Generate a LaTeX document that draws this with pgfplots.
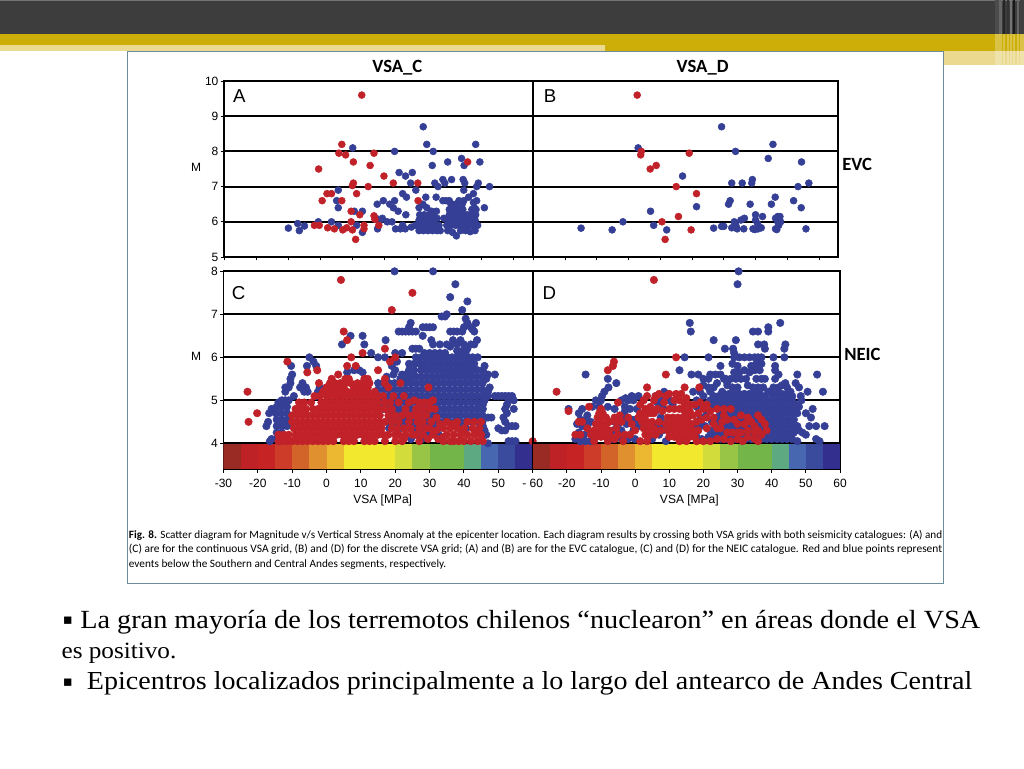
\documentclass[border=0pt]{standalone}
\usepackage{pgfplots}
\usepackage{graphicx}
\usepackage{fontspec}
\pgfplotsset{compat=1.18}
\setmainfont{Liberation Serif}
\setsansfont{Liberation Sans}
\newfontfamily\capfont{Carlito}
\newfontfamily\symfont{DejaVu Sans}
\newfontfamily\bodyfont[FakeStretch=1.08]{Liberation Serif}
\definecolor{rd}{HTML}{C1222A}
\definecolor{bl}{HTML}{343F95}
\definecolor{gd}{HTML}{CDAE08}
\definecolor{lg}{HTML}{EAD98E}
\definecolor{frm}{HTML}{6C8C9C}
\definecolor{c1}{HTML}{9A2A24}\definecolor{c2}{HTML}{BF2226}\definecolor{c3}{HTML}{C62424}
\definecolor{c4}{HTML}{CC3C28}\definecolor{c5}{HTML}{D2642A}\definecolor{c6}{HTML}{E0902E}
\definecolor{c7}{HTML}{ECB832}\definecolor{c8}{HTML}{F2E92E}\definecolor{c9}{HTML}{D2DC3A}
\definecolor{c10}{HTML}{98C545}\definecolor{c11}{HTML}{74B54A}\definecolor{c12}{HTML}{5DAA82}
\definecolor{c13}{HTML}{4768B0}\definecolor{c14}{HTML}{3A4A9C}\definecolor{c15}{HTML}{332F8F}
\pgfplotsset{
  panel/.style={scale only axis, axis line style={line width=1.3pt,black},
    ymajorgrids, grid style={line width=1.4pt,black},
    tick align=outside, major tick length=2.5pt, tick style={black,line width=0.7pt},
    xtick pos=bottom, ytick pos=left,
    /pgf/number format/assume math mode=true,
    tick label style={font=\sffamily\fontsize{9}{9}\selectfont, inner sep=1.5pt},
    xticklabel style={yshift=-3pt},
    clip=true, axis on top=false},
  dots/.style={only marks, mark=*, mark size=#1, mark options={draw=none}},
  rdots/.style={dots=#1, color=rd, mark options={fill=rd,draw=none}},
  bdots/.style={dots=#1, color=bl, mark options={fill=bl,draw=none}},
  top panel/.style={panel, height=132pt, xmin=-30, xmax=66, ymin=5, ymax=10, ytick={5,...,10}, xtick={-30,-20,...,60}, xticklabels={}},
  low panel/.style={panel, height=148.5pt, xmin=-30, xmax=60, ymin=3.395, ymax=8, ytick={4,...,8}},
}
\newcommand{\cbar}{%
 \addplot[fill=c1,draw=none] coordinates {(-30,3.395)(-30,4)(-25,4)(-25,3.395)} --cycle;
 \addplot[fill=c2,draw=none] coordinates {(-25,3.395)(-25,4)(-20,4)(-20,3.395)} --cycle;
 \addplot[fill=c3,draw=none] coordinates {(-20,3.395)(-20,4)(-15,4)(-15,3.395)} --cycle;
 \addplot[fill=c4,draw=none] coordinates {(-15,3.395)(-15,4)(-10,4)(-10,3.395)} --cycle;
 \addplot[fill=c5,draw=none] coordinates {(-10,3.395)(-10,4)(-5,4)(-5,3.395)} --cycle;
 \addplot[fill=c6,draw=none] coordinates {(-5,3.395)(-5,4)(0,4)(0,3.395)} --cycle;
 \addplot[fill=c7,draw=none] coordinates {(0,3.395)(0,4)(5,4)(5,3.395)} --cycle;
 \addplot[fill=c8,draw=none] coordinates {(5,3.395)(5,4)(20,4)(20,3.395)} --cycle;
 \addplot[fill=c9,draw=none] coordinates {(20,3.395)(20,4)(25,4)(25,3.395)} --cycle;
 \addplot[fill=c10,draw=none] coordinates {(25,3.395)(25,4)(30,4)(30,3.395)} --cycle;
 \addplot[fill=c11,draw=none] coordinates {(30,3.395)(30,4)(40,4)(40,3.395)} --cycle;
 \addplot[fill=c12,draw=none] coordinates {(40,3.395)(40,4)(45,4)(45,3.395)} --cycle;
 \addplot[fill=c13,draw=none] coordinates {(45,3.395)(45,4)(50,4)(50,3.395)} --cycle;
 \addplot[fill=c14,draw=none] coordinates {(50,3.395)(50,4)(55,4)(55,3.395)} --cycle;
 \addplot[fill=c15,draw=none] coordinates {(55,3.395)(55,4)(60,4)(60,3.395)} --cycle;
 \addplot[black,line width=1.4pt] coordinates {(-30,4)(60,4)};
}
\begin{document}
\begin{tikzpicture}
\path[use as bounding box,fill=white] (0,0) rectangle (768pt,-576pt);
% slide decoration
\fill[black!76] (0,0) rectangle (768pt,-25.5pt);
\fill[black!55] (0,0) rectangle (768pt,-1pt);
\fill[gd] (0,-25.5pt) rectangle (768pt,-34pt);
\fill[lg] (0,-34pt) rectangle (454pt,-38pt);
\fill[gd] (454pt,-34pt) rectangle (768pt,-38pt);
\fill[lg] (454pt,-38pt) rectangle (768pt,-48.5pt);
\foreach \xa/\w/\g in {746/3/70,749.5/2/60,752/1.5/85,755/2/80,757.5/1.5/55,760/1.5/90,763/1.5/60,765/3/75}{
  \fill[black!\g] (\xa pt,0) rectangle ++(\w pt,-25.5pt);
  \fill[white,opacity=0.25] (\xa pt,-25.5pt) rectangle ++(\w pt,-25.5pt);
}
% figure frame
\draw[fill=white,draw=frm,line width=0.7pt] (95.3pt,-38.3pt) rectangle (707.3pt,-437.3pt);
% A
\begin{axis}[top panel, at={(168pt,-192.75pt)}, anchor=south west, width=231.75pt]
\addplot[bdots=2.6pt] coordinates {
(-10,5.82)(-7.1,5.95)(-6.6,5.75)(-5,5.88)(-0.7,6)(3.4,6)(5.5,5.9)(5.5,6.9)(5,6.6)(5.5,6.4)(10,8.1)(10.5,6.3)(13,6.3)(13,5.7)(11.2,5.9)
(17.6,6.5)(19.5,6.6)(21.5,6.5)(23,6.6)(22.6,6.4)(24.1,6.3)(26.5,6.2)(23,8)(24.4,7.4)(26.4,7.3)(28.5,7.4)(28,7.1)(25.5,6.8)(26.7,6.7)(29.6,6.9)
(31.9,8.7)(33,8.2)(35,8)(34.7,7.6)(39.5,7.7)(43.8,7.8)(44.6,7.6)(48.2,8.2)(49.5,7.7)(35.5,7.1)(36.5,7)(38,7.2)(38.6,7.1)(40.7,7.2)(44.3,7.2)(44.8,7.1)(49,7.1)(48.5,7)(52.5,7)(44.5,6.9)(35.9,6.7)(32.7,6.7)(50.9,6.4)
(17.7,5.8)(17.2,6.1)(19.2,6.1)(18.2,6)(20.7,6)(22.2,6)(23.3,5.8)(24.8,5.8)(25.5,5.9)(26.3,5.8)(28.2,5.85)(29.5,5.9)
(36.2,6.1)(38.3,6.1)(38,6.6)(39,6.6)(40,6.6)(41,6.5)(43,6.6)(44.5,6.6)(46,6.7)(47.5,6.8)(48.5,6.6)(47.8,6.4)(48.2,6.2)
(30.6,6.4)(31.8,6.5)(33,6.4)(34.5,6.3)(36,6.3)
(30.6,5.75)(32,5.75)(33.4,5.75)(34.8,5.75)(36.2,5.75)(37.2,5.75)
(30.2,5.9)(31.5,5.9)(32.9,5.9)(34.3,5.9)(35.7,5.9)(36.8,5.9)
(30.6,6.05)(32,6.05)(33.4,6.05)(34.8,6.05)
(30.8,6.2)(32.2,6.2)(33.6,6.2)(35,6.2)
(39.5,5.75)(41,5.7)(42.2,5.6)(43.5,5.75)(45,5.75)(46.5,5.72)(48,5.75)
(39.2,5.9)(40.6,5.9)(42,5.9)(43.4,5.9)(44.8,5.9)(46.2,5.9)(47.6,5.9)(48.8,5.9)
(39.6,6.05)(41,6.05)(42.4,6.05)(43.8,6.05)(45.2,6.05)(46.6,6.05)(48,6.05)
(40,6.2)(41.4,6.2)(42.8,6.2)(44.2,6.2)(45.6,6.2)(47,6.2)
(40,6.35)(41.4,6.35)(42.8,6.35)(44.2,6.35)(47,6.35)(48.3,6.35)
(40.5,6.5)(42,6.5)(44,6.5)(47.5,6.55)
};
\addplot[rdots=2.6pt] coordinates {
(12.8,9.6)(6.6,8.2)(5.7,7.95)(7.8,7.9)(16.6,7.95)(10.2,7.7)(15.4,7.6)(-0.6,7.5)(19.7,7.3)(22.6,7.1)(30.2,7.1)(14.8,7)(10.2,7.1)(9.9,7.03)
(2,6.8)(3.4,6.8)(0.5,6.6)(6.6,6.6)(11.2,6.8)(45.7,7.7)(30.3,6.6)(9.5,6.3)(12.2,6.2)(16.6,6.17)(16.9,6.07)(18.1,5.9)(9.5,6)
(-1.9,5.9)(-0.4,5.9)(2.2,5.83)(4.3,5.8)(6.9,5.77)(8.1,5.83)(9.9,5.77)(13.5,5.8)(13.5,5.9)(10.9,5.5)
};
\end{axis}
% B
\begin{axis}[top panel, at={(400.1pt,-192.75pt)}, anchor=south west, width=228.4pt, yticklabels={}, ytick style={draw=none}]
\addplot[bdots=2.6pt] coordinates {
(-15,5.82)(-5.2,5.77)(-1.8,6)(7.9,5.9)(6.9,6.3)(12,5.77)(3,8.1)(17,7.3)(21.4,6.43)(29.3,8.7)(33.7,8)(45.5,8.2)(44,7.8)(54.5,7.7)(56.8,7.1)(53.4,7)
(32.5,7.1)(35.8,7.1)(39,7.2)(38.8,7.1)(46.2,6.7)(45,6.5)(52,6.6)(54.4,6.4)(38.3,6.5)(32,6.6)(31.5,6.5)(55.9,5.8)(26.8,5.82)(29.3,5.87)(30,5.87)
(32.5,5.83)(33.3,6)(34.2,5.8)(33.8,5.9)(35.4,6.05)(36.5,6.1)(36.3,5.8)(39.2,5.8)(40,6.2)(42.2,6.15)(40,6.05)(40.6,5.95)(41.8,5.83)(39.8,5.78)(40.8,5.8)
(46.3,5.8)(47.3,5.9)(47.7,6.15)(46.3,6.1)(47.9,6)(47,6)(46.7,5.78)(47,6.15)
};
\addplot[rdots=2.6pt] coordinates {
(2.7,9.6)(4,8)(3.8,7.9)(6.8,7.5)(8.7,7.6)(19.1,7.95)(15,7)(21.4,6.8)(15.7,6.15)(10.5,6)(19.7,5.77)(11.5,5.5)
};
\end{axis}
% C
\begin{axis}[low panel, at={(167.6pt,-352pt)}, anchor=south west, width=231.9pt,
  xtick={-30,-20,...,60}, xticklabels={-30,-20,-10,0,10,20,30,40,50,- 60}]
\addplot[bdots=2.8pt] coordinates {
(19.8,8)(31,8)(37.5,7.7)(36,7.4)(41,7.3)(39.5,7.1)(35,7)(33.5,6.95)(34.5,6.95)(40.5,6.9)(41,6.8)(40,6.7)(39.5,6.6)(42,6.7)(43,6.6)(43.5,6.8)(42.5,6.65)
(21,6.6)(22,6.6)(23,6.6)(24,6.6)(25,6.6)(26,6.6)(24,6.7)(24.5,6.8)(28,6.7)(29,6.7)(30,6.7)(31,6.7)(28,6.5)(36,6.6)(37,6.6)(38,6.6)
(17.2,6.4)(31,6.3)(30.5,6.4)(33,6.3)(35,6.3)(36,6.25)(36.8,6.4)(38,6.3)(39,6.4)(40,6.3)(41,6.2)(42,6.3)(43,6.3)(43.8,6.4)
(25,6.2)(26,6.2)(27,6.2)(38,6.15)(39.5,6.15)(40.5,6.1)
(-5,6)(-3.8,5.9)(-3,5.8)(-5.7,5.8)(-10.3,5.8)(-10.5,5.5)(-10,5.6)(-12,5.3)(-11,5.3)(-10.5,5.4)(-12,5.2)(-9.5,5.1)(-7.7,5.3)(-7,5.4)(-6,5.3)(-5.5,5.2)(-6.5,5.2)(-2,5.3)(-2.5,5.2)(-3,5.1)
(-16,4.8)(-16.7,4.7)(-17,4.5)(-17.5,4.4)(-16.5,4.05)(-16,4.1)
(-14,4.95)(-13,5)(-12,5)(-11,5)(-14.5,4.85)(-13,4.85)(-11.5,4.85)(-14.8,4.7)(-13.2,4.7)(-11.5,4.7)(-14.5,4.55)(-13,4.55)(-11.5,4.55)(-14.5,4.4)(-13,4.4)(-11.5,4.4)(-14.5,4.25)(-13,4.25)(-14.5,4.1)(-13,4.1)
(46,5.8)(47,5.6)(49,5.6)(46.5,5.5)(47.5,5.3)(47,5.2)(47,5.1)(46,5)(45.5,4.9)(45.5,4.8)(47,4.6)(48,4.6)(49,5.1)(50,5.1)(51,5.1)(52,5.1)(53,5.1)(54,5.1)(54.5,5)(53,5)(52.5,4.9)(52,4.8)(52.5,4.7)(54.5,4.8)(51.5,4.6)(52,4.5)(53,4.4)(54,4.4)(55,4.4)(50,4.35)(51,4.3)(52,4.3)(46,4.3)(45.5,4.4)(46.5,4.2)(47,4)(53,4.05)(54,4.05)(55,4.05)
(4.5,6.3)(7,6.5)(10.5,6.5)(11,6.3)(13,6.1)(15,6)(17,6)(20,6.1)(20.5,5.9)(19,5.8)(8,5.7)(9.5,5.7)(10.5,5.65)(6,5.65)(19.5,5.6)(17.5,5.55)(20,5.7)(22,5.6)(23,5.6)(21.5,5.5)(23,5.5)
(3,5.1)(0,5.3)
(24,5.85)(25.5,5.85)(27,5.85)(28.5,5.85)(30,5.85)(31.5,5.85)(33,5.85)(34.5,5.85)(36,5.85)(37.5,5.85)(39,5.85)(40.5,5.85)(42,5.85)(43,5.85)
(26,6)(27.5,6)(29,6)(30.5,6)(32,6)(33.5,6)(35,6)(36.5,6)(38,6)(39.5,6)(41,6)(42.5,6)(44,6)(22,6.1)(28.5,6.1)(30,6.1)(31.5,6.1)(33,6.1)(34.5,6.1)
(24,5.7)(25.5,5.7)(27.5,5.7)(29,5.7)(30.5,5.7)(32,5.7)(33.5,5.7)(35,5.7)(36.5,5.7)(38,5.7)(39.5,5.7)(41,5.7)(42.5,5.7)(44,5.7)(45.5,5.7)
(24.5,5.55)(26,5.55)(27.6,5.55)(29.2,5.55)(30.8,5.55)(32.4,5.55)(34,5.55)(35.6,5.55)(37.2,5.55)(38.8,5.55)(40.4,5.55)(42,5.55)(43.6,5.55)(45.2,5.55)
(15,5.4)(16.6,5.4)(18.2,5.4)(19.8,5.4)(21.4,5.4)(23,5.4)(24.6,5.4)(26.2,5.4)(27.8,5.4)(29.4,5.4)(31,5.4)(32.6,5.4)(34.2,5.4)(35.8,5.4)(37.4,5.4)(39,5.4)(40.6,5.4)(42.2,5.4)(43.8,5.4)(45.4,5.4)
(15,5.25)(16.6,5.25)(18.2,5.25)(19.8,5.25)(21.4,5.25)(23,5.25)(24.6,5.25)(26.2,5.25)(27.8,5.25)(29.4,5.25)(31,5.25)(32.6,5.25)(34.2,5.25)(35.8,5.25)(37.4,5.25)(39,5.25)(40.6,5.25)(42.2,5.25)(43.8,5.25)(45.4,5.25)
(15,5.1)(16.6,5.1)(18.2,5.1)(19.8,5.1)(21.4,5.1)(23,5.1)(24.6,5.1)(26.2,5.1)(27.8,5.1)(29.4,5.1)(31,5.1)(32.6,5.1)(34.2,5.1)(35.8,5.1)(37.4,5.1)(39,5.1)(40.6,5.1)(42.2,5.1)(43.8,5.1)(45.4,5.1)
(15,4.95)(16.6,4.95)(18.2,4.95)(19.8,4.95)(21.4,4.95)(23,4.95)(24.6,4.95)(26.2,4.95)(27.8,4.95)(29.4,4.95)(31,4.95)(32.6,4.95)(34.2,4.95)(35.8,4.95)(37.4,4.95)(39,4.95)(40.6,4.95)(42.2,4.95)(43.8,4.95)(45.4,4.95)
(15,4.8)(16.6,4.8)(18.2,4.8)(19.8,4.8)(21.4,4.8)(23,4.8)(24.6,4.8)(26.2,4.8)(27.8,4.8)(29.4,4.8)(31,4.8)(32.6,4.8)(34.2,4.8)(35.8,4.8)(37.4,4.8)(39,4.8)(40.6,4.8)(42.2,4.8)(43.8,4.8)(45.4,4.8)
(18.2,4.65)(19.8,4.65)(21.4,4.65)(23,4.65)(24.6,4.65)(26.2,4.65)(27.8,4.65)(29.4,4.65)(31,4.65)(32.6,4.65)(34.2,4.65)(35.8,4.65)(37.4,4.65)(39,4.65)(40.6,4.65)(42.2,4.65)(43.8,4.65)(45.4,4.65)
(18.2,4.5)(19.8,4.5)(21.4,4.5)(23,4.5)(24.6,4.5)(26.2,4.5)(27.8,4.5)(29.4,4.5)(31,4.5)(32.6,4.5)(34.2,4.5)(35.8,4.5)(37.4,4.5)(39,4.5)(40.6,4.5)(42.2,4.5)(43.8,4.5)(45.4,4.5)
(18.2,4.35)(21.4,4.35)(24.6,4.35)(26.2,4.35)(27.8,4.35)(29.4,4.35)(31,4.35)(32.6,4.35)(39,4.35)(40.6,4.35)
(26.2,4.2)(29.4,4.2)(32.6,4.2)(24.6,4.1)(27.8,4.1)
};
\addplot[rdots=2.8pt] coordinates {
(-23,5.2)(-22.7,4.5)(-20.2,4.7)(-11.4,5.9)(-5.6,5.65)(-2.7,5.7)(-2.2,5.4)(4.2,7.8)(25,7.5)(19,7.1)(5,6.6)(6,6.4)(7.2,6)(10.5,6.1)(17,6.2)(18.5,5.9)(20,6)(3.4,5.6)(6,5.8)(8.5,5.8)(15,5.7)(21.5,5.4)(29.7,5.3)(60,4.05)
(1.5,5.5)(5.5,5.5)(6.5,5.5)(11,5.5)(12,5.5)(17,5.5)
(1,5.4)(2.5,5.4)(4,5.4)(5.5,5.4)(7,5.4)(9,5.4)(10.5,5.4)(12.5,5.4)(17,5.4)
(0,5.3)(2,5.3)(3.5,5.3)(5,5.3)(8,5.3)(10,5.3)(12,5.3)(18,5.3)
(-1,5.2)(1,5.2)(3,5.2)(4.5,5.2)(6,5.2)(7.5,5.2)(9,5.2)(10.5,5.2)(12,5.2)(14,5.2)
(-3.5,5.1)(-2,5.1)(0,5.1)(1.5,5.1)(3,5.1)(4.5,5.1)(6,5.1)(7.5,5.1)(9,5.1)(10.5,5.1)(12,5.1)(13.5,5.1)(15,5.1)(16.5,5.1)(22.5,5.1)
(-8,4.95)(-6.5,4.95)(-4.5,4.95)(-1.5,4.95)(0,4.95)(1.5,4.95)(3,4.95)(4.5,4.95)(6,4.95)(7.5,4.95)(9,4.95)(10.5,4.95)(12,4.95)(13.5,4.95)(15,4.95)(17,4.95)(21,4.95)(24,4.95)(27,4.95)(30,4.95)
(-9,4.8)(-7.5,4.8)(-6,4.8)(-4,4.8)(-2.5,4.8)(-1,4.8)(0.5,4.8)(2,4.8)(3.5,4.8)(5,4.8)(6.5,4.8)(8,4.8)(9.5,4.8)(11,4.8)(12.5,4.8)(14,4.8)(15.5,4.8)(17,4.8)(19,4.8)(23,4.8)(26,4.8)(28,4.8)(30,4.8)
(-10,4.65)(-8.5,4.65)(-7,4.65)(-5.5,4.65)(-4,4.65)(-2.5,4.65)(-1,4.65)(0.5,4.65)(2,4.65)(3.5,4.65)(5,4.65)(6.5,4.65)(8,4.65)(9.5,4.65)(11,4.65)(12.5,4.65)(14,4.65)(15.5,4.65)(18,4.65)(20,4.65)(22,4.65)(25,4.65)(27,4.65)(29,4.65)
(-10,4.5)(-8.5,4.5)(-7,4.5)(-5.5,4.5)(-4,4.5)(-2.5,4.5)(-1,4.5)(0.5,4.5)(2,4.5)(3.5,4.5)(5,4.5)(6.5,4.5)(8,4.5)(9.5,4.5)(11,4.5)(12.5,4.5)(14,4.5)(15.5,4.5)(17,4.5)(19,4.5)(21,4.5)(24,4.5)(26.5,4.5)(28,4.5)(35,4.5)(43,4.5)(45,4.5)
(-9.5,4.35)(-8,4.35)(-6.5,4.35)(-5,4.35)(-3.5,4.35)(-2,4.35)(-0.5,4.35)(1,4.35)(2.5,4.35)(4,4.35)(5.5,4.35)(7,4.35)(8.5,4.35)(10,4.35)(11.5,4.35)(13,4.35)(14.5,4.35)(16,4.35)(19,4.35)(20.5,4.35)(22.5,4.35)(24,4.35)(27,4.35)(29,4.35)(34,4.35)(36,4.35)(38,4.35)(42.5,4.35)(44.5,4.35)
(-14,4.2)(-12.5,4.2)(-11,4.2)(-9,4.2)(-7.5,4.2)(-6,4.2)(-4.5,4.2)(-3,4.2)(-1.5,4.2)(0,4.2)(1.5,4.2)(3,4.2)(4.5,4.2)(6,4.2)(7.5,4.2)(9,4.2)(10.5,4.2)(12,4.2)(13.5,4.2)(15,4.2)(16.5,4.2)(18,4.2)(21,4.2)(23,4.2)(25,4.2)(28,4.2)(31,4.2)(35,4.2)(37,4.2)(39,4.2)(41,4.2)(43,4.2)(45,4.2)
(-14,4.05)(-13,4.05)(-11.5,4.05)(-10,4.05)(-8.5,4.05)(-7,4.05)(-5.5,4.05)(-4,4.05)(-2.5,4.05)(-1,4.05)(0.5,4.05)(2,4.05)(5,4.05)(6.5,4.05)(8,4.05)(11,4.05)(12.5,4.05)(14,4.05)(17,4.05)(20,4.05)(22,4.05)(27,4.05)(34,4.05)(37,4.05)(38.5,4.05)(40,4.05)(42,4.05)(44,4.05)(45.5,4.05)
(18.5,4.95)(19.5,5.1)(25.5,5)(28.5,4.95)(31.5,4.8)(31,5)(24,4.65)(26,4.65)(30.5,4.5)(32,4.6)(30,4.35)(32,4.3)(20,4.2)(22.5,4.1)(24.5,4.35)(26,4.2)(29.5,4.1)(32.5,4.1)(36,4.05)(40,4.35)(41,4.5)(39.5,4.25)(34,4.15)(33,4.45)(38,4.5)(36.5,4.45)(44,4.25)
};
\cbar
\end{axis}
% D
\begin{axis}[low panel, at={(399.5pt,-352pt)}, anchor=south west, width=230.5pt,
  xtick={-20,-10,...,60}, yticklabels={}, ytick style={draw=none}]
\addplot[bdots=2.8pt] coordinates {
(30.3,8)(30,7.7)(16,6.8)(16.3,6.6)(34.5,6.6)(36,6.6)(39,6.7)(39,6.6)(42.5,6.8)(23,6.4)(29.5,6.4)(26.3,6.2)(28.7,6.2)(29,6.1)(36,6.3)(37.8,6.3)(38,6.2)(44,6.3)(43.7,6.2)(14.5,6)(21.5,6)
(29,6)(30.5,6)(32,6)(33.5,6)(35,6)(36,6)(37,6)(40.5,6)(43.7,6)(-14.5,5.6)(-8,5.5)(-5.5,5.4)(-7.8,5.3)(-9,5.2)(-9.7,5.1)(-10,5)(13,5.7)(16.5,5.6)(18.5,5.6)
(47.5,5.6)(53.3,5.6)(55,5.2)(50.5,5.2)(47,5.4)(48,5.3)(48.5,5.1)(48.7,5)(41,5.8)(41,5.7)(42,5.6)(44,5.4)(25,5.8)(52,4.8)(51.5,4.6)(50,4.7)(51,4.4)(53,4.4)(55.5,4.4)(53,4.1)(54,4.05)(48,4.3)(49,4.25)(50,4.2)
(-19.5,4.8)(-15.5,4.8)(-16.5,4.7)(-14,4.65)(-13,4.5)(-17,4.45)(-15.5,4.4)(-14,4.4)(-16.5,4.25)(-15,4.2)(-17.5,4.1)(-16,4.05)(-14.5,4.05)(-13,4.05)
(-11.5,5)(-10.5,4.85)(-8,4.85)(-6,4.8)(-4,5)(-2.8,5.05)(-1,5.1)(-0.5,5)(-3,4.85)(-1.5,4.8)(0.5,4.8)(-3,4.6)(-1,4.55)(-2.5,4.45)(-0.5,4.3)(-4,4.3)(-6,4.5)(1,5.1)(8.5,5.2)(8,5)(10,5)(11,4.9)(6,5.1)
(20,5.5)(21.5,5.5)(22,5.6)(23.5,5.6)(25,5.6)(19,5.2)(17,5.2)(18,5)(22,5.2)(23,5.3)(24,5.4)(26,5.5)(27,5.4)(24.5,5.1)(25.5,5.2)(22,5)(20.5,4.9)(23,4.85)(21,4.7)(24,4.6)(22.5,4.5)(20.5,4.4)(24,4.3)
(20,5.1)(21.5,5.3)(20,5.35)(23,5.1)(21.5,4.95)(23.5,4.95)(20,4.6)(22,4.3)(21.5,4.15)(23,4.2)(18,4.85)(19,4.55)(17,4.4)(-12.5,4.85)(-14.5,4.55)(-16,4.55)(-13,4.25)(-11.5,4.2)(-5,4.45)(-3,4.75)(-2,5)(-6.5,4.3)(-7,4.1)(6.5,4.95)(8,4.85)(7,4.2)(8.5,4.45)
(28.5,5.85)(30,5.8)(34,5.8)(35.5,5.85)(37,5.85)(29,5.65)(30.5,5.65)(32,5.7)(33.5,5.65)(35,5.7)(36.5,5.7)
(26.5,5.5)(28,5.5)(29.5,5.5)(31,5.5)(32.5,5.5)(35.5,5.5)(37,5.5)(38,5.5)(41,5.5)(43,5.35)
(27,5.35)(28.5,5.3)(30,5.3)(33,5.35)(34.5,5.3)(36,5.3)(37.5,5.3)(39,5.2)(40.5,5.3)(42,5.3)(44.5,5.3)(45.5,5.2)
(26,5.15)(27.5,5.15)(29,5.15)(30.5,5.15)(32,5.15)(33.5,5.15)(35,5.15)(36.5,5.15)(38,5.1)(40,5.15)(41.5,5.15)(43,5.15)(44.5,5.15)(46,5.1)
(25,5)(26.5,5)(28,5)(29.5,5)(31,5)(32.5,5)(34,5)(35.5,5)(37,5)(38.5,5)(40,5)(41.5,5)(43,5)(44.5,5)(46,5)(47,4.9)
(24,4.85)(25.5,4.85)(27,4.85)(28.5,4.85)(30,4.85)(31.5,4.85)(33,4.85)(34.5,4.85)(36,4.85)(37.5,4.85)(39,4.85)(40.5,4.85)(42,4.85)(43.5,4.85)(45,4.85)(46.5,4.8)(48,4.85)
(25,4.7)(26.5,4.7)(28,4.7)(29.5,4.7)(31,4.7)(32.5,4.7)(34,4.7)(35.5,4.7)(37,4.7)(38.5,4.7)(40,4.7)(41.5,4.7)(43,4.7)(44.5,4.7)(46,4.7)(47.5,4.7)
(24,4.55)(25.5,4.55)(27,4.55)(28.5,4.55)(30,4.55)(31.5,4.55)(33,4.55)(34.5,4.55)(36,4.55)(37.5,4.55)(39,4.55)(40.5,4.55)(42,4.55)(43.5,4.55)(45,4.55)(46.5,4.55)
(25,4.4)(26.5,4.4)(28,4.4)(29.5,4.4)(31,4.4)(32.5,4.4)(34,4.4)(35.5,4.4)(37,4.4)(38.5,4.4)(40,4.4)(41.5,4.4)(43,4.4)(44.5,4.4)(46,4.4)(47.5,4.4)
(24,4.25)(25.5,4.25)(27,4.25)(28.5,4.25)(30,4.25)(31.5,4.25)(33,4.25)(34.5,4.25)(36,4.25)(37.5,4.25)(39,4.25)(40.5,4.25)(42,4.25)(43.5,4.25)(45,4.25)(46.5,4.25)
(22,4.1)(25,4.1)(26.5,4.1)(28,4.1)(29.5,4.1)(31,4.1)(32.5,4.1)(34,4.1)(35.5,4.1)(37,4.1)(38.5,4.1)(40,4.1)(41.5,4.1)(43,4.1)(44.5,4.1)(46,4.1)(47.5,4.05)
(-6,4.1)(-4,4.1)(-2,4.1)(0,4.1)(1,4.4)(5,4.1)(6.5,4.4)(7.5,4.6)(6,4.75)(8,4.3)(0,4.55)(9,4.05)(18,4.15)(19,4.4)(19.5,4.1)
};
\addplot[rdots=2.8pt] coordinates {
(-23,5.2)(-19.5,4.75)(-6.2,5.9)(-6.5,5.8)(-8,5.7)(3.5,5.3)(9,5.6)(12,6)(5.5,7.8)(14.5,5.3)(18.8,5.3)(-13.5,4.85)(-5,4.95)
(-16.5,4.5)(-15.5,4.5)(-17.5,4.2)(-16,4.2)
(-10,4.8)(-10.5,4.7)(-9.5,4.7)(-11,4.6)(-10,4.6)(-8.5,4.6)(-11.5,4.45)(-10,4.45)(-8.5,4.45)(-7.5,4.5)(-12,4.3)(-10.5,4.3)(-9,4.3)(-7.5,4.3)(-11.5,4.15)(-10,4.15)(-8.5,4.15)(-7,4.15)(-12,4.05)(-8,4.05)
(-6,4.6)(-4.5,4.65)(-4,4.5)(-5,4.2)(-3,4.2)(-1.5,4.2)(-5.5,4.35)(-2,4.6)
(1.5,4.9)(2.5,5)(3.5,5.1)(3,4.8)(1.5,4.7)(3,4.65)(4.5,4.85)(4.5,4.7)(2,4.5)(3.5,4.5)(5,4.5)(2.5,4.35)(4,4.35)(5.5,4.35)(3,4.2)(4.5,4.2)(6,4.2)(1.5,4.05)(3.5,4.05)(6,5.1)(7,5.15)(5.5,5)
(12,5.15)(13.5,5.15)(15,5.05)(11.5,5)(13,5)(14.5,4.9)(16,4.9)(10,4.8)(11.5,4.8)(13,4.8)(14.5,4.75)(16,4.75)(9.5,4.6)(11,4.6)(12.5,4.6)(14,4.6)(15.5,4.6)(17,4.65)(18.5,4.7)
(9,4.45)(10.5,4.45)(12,4.45)(13.5,4.45)(15,4.45)(16.5,4.45)(18,4.5)(9.5,4.3)(11,4.3)(12.5,4.3)(14,4.3)(15.5,4.3)(17,4.3)(18.5,4.3)(10,4.15)(11.5,4.15)(13,4.15)(14.5,4.15)(16,4.15)(17.5,4.15)(13,4.05)(15,4.05)(18,4.05)(20,4.05)(22,4.05)
(20,4.8)(22,4.75)(24,4.8)(26,4.8)(28,4.8)(21,4.6)(23,4.6)(25.5,4.5)(27,4.55)(31,4.65)(32,4.45)(34,4.5)(36,4.65)(37,4.55)
(21,4.35)(24,4.35)(27,4.25)(28.5,4.25)(30,4.25)(31,4.25)(33,4.3)(35,4.25)(36,4.3)(37,4.2)(38.5,4.3)(30,4.1)(33,4.15)(35,4.1)(36,4.05)
(-13,4.2)(-14,4.35)(-6,4.1)(-5.5,4.5)(-3.5,4.05)(-1,4.45)(0,4.3)(1,4.6)(7,4.5)(7.5,4.3)(8,4.75)(8.5,4.95)(6.5,4.8)(5.5,4.7)(9,5.1)(10,5.15)(17.5,4.9)(19,4.95)(21,4.9)(19.5,4.55)(23,4.45)(25,4.35)(26,4.65)(29,4.55)(30,4.45)(33,4.6)(35,4.4)(38,4.45)(24,4.1)(26,4.1)(28,4.05)(31.5,4.05)
};
\cbar
\end{axis}
% labels
\node[font=\capfont\bfseries\fontsize{14}{14}\selectfont] at (298pt,-51pt) {VSA\_C};
\node[font=\capfont\bfseries\fontsize{14}{14}\selectfont] at (527pt,-50.5pt) {VSA\_D};
\node[font=\capfont\bfseries\fontsize{14}{14}\selectfont,anchor=west,inner sep=0pt] at (631.5pt,-123pt) {EVC};
\node[font=\capfont\bfseries\fontsize{14}{14}\selectfont,anchor=west,inner sep=0pt] at (633pt,-266pt) {NEIC};
\foreach \t/\xa/\ya in {A/179.5/-72,B/412.5/-72,C/179/-220,D/412/-220}{
  \node[font=\sffamily\fontsize{14}{14}\selectfont] at (\xa pt,\ya pt) {\t};}
\node[font=\sffamily\fontsize{9}{9}\selectfont] at (147pt,-125.5pt) {M};
\node[font=\sffamily\fontsize{9}{9}\selectfont] at (147pt,-267.5pt) {M};
\node[font=\sffamily\fontsize{9}{9}\selectfont] at (287pt,-375pt) {VSA [MPa]};
\node[font=\sffamily\fontsize{9}{9}\selectfont] at (517pt,-375pt) {VSA [MPa]};
% caption
\begin{scope}[every node/.style={anchor=base west,inner sep=0pt,font=\capfont\fontsize{8}{8}\selectfont}]
\node at (96.5pt,-403.7pt) {\resizebox{610pt}{!}{\textbf{Fig. 8.} Scatter diagram for Magnitude v/s Vertical Stress Anomaly at the epicenter location. Each diagram results by crossing both VSA grids with both seismicity catalogues: (A) and}};
\node at (96.5pt,-414.7pt) {\resizebox{610pt}{!}{(C) are for the continuous VSA grid, (B) and (D) for the discrete VSA grid; (A) and (B) are for the EVC catalogue, (C) and (D) for the NEIC catalogue. Red and blue points represent}};
\node at (96.5pt,-425.7pt) {\resizebox{238pt}{!}{events below the Southern and Central Andes segments, respectively.}};
\end{scope}
% body text
\begin{scope}[every node/.style={anchor=base west,inner sep=0pt,font=\bodyfont\fontsize{17.5}{17.5}\selectfont}]
\node at (47pt,-468.5pt) {{\symfont\fontsize{11}{11}\selectfont ▪}};
\node at (60pt,-471pt) {\resizebox{675pt}{!}{La gran mayoría de los terremotos chilenos “nuclearon” en áreas donde el VSA}};
\node at (46pt,-494pt) {es positivo.};
\node at (47pt,-515pt) {{\symfont\fontsize{11}{11}\selectfont ▪}};
\node at (65pt,-517pt) {\resizebox{664pt}{!}{Epicentros localizados principalmente a lo largo del antearco de Andes Central}};
\end{scope}
\end{tikzpicture}
\end{document}
